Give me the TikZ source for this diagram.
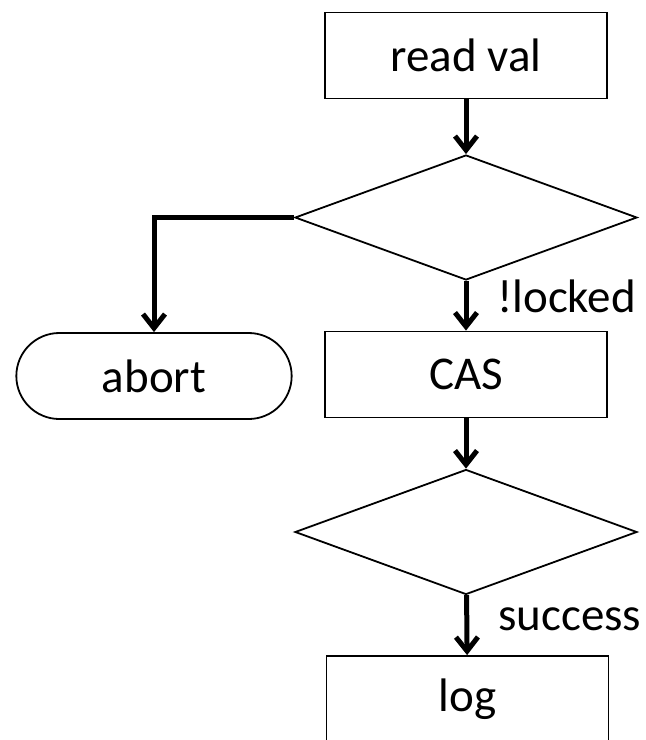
\documentclass[tikz,border=0pt]{standalone}
\usepackage{fontspec}
\setmainfont{Carlito}
\usetikzlibrary{arrows.meta,shapes.geometric,shapes.misc}

\tikzset{
  box/.style={draw, line width=1.8, rectangle, minimum width=282, minimum height=86},
  test/.style={draw, line width=1.8, diamond, inner sep=0, minimum width=342, minimum height=125},
  term/.style={draw, line width=1.8, rounded rectangle, minimum width=282, minimum height=86},
  flow/.style={line width=5, ->},
  lbl/.style={anchor=base west, inner sep=0}
}

\begin{document}
\begin{tikzpicture}[x=1pt, y=-1pt, >={Straight Barb[length=14,width=22]},
  font=\fontsize{47}{56}\selectfont]

\useasboundingbox (0,0) rectangle (646,740);
\clip (0,0) rectangle (646,740);

\node[box]  (read)  at (466,55.5)  {read val};
\node[test] (chk)   at (466,217.5) {};
\node[box]  (cas)   at (466,374.5) {CAS};
\node[term] (abort) at (154,376)   {abort};
\node[test] (ok)    at (466,532)   {};
\node[box]  (log)   at (467.5,699) {log};

\draw[flow] (read) -- (chk);
\draw[flow] (chk) -- (cas);
\draw[flow] (chk.west) -| (abort.north);
\draw[flow] (cas) -- (ok);
\draw[flow] (ok) -- (log);

\node[lbl] (lk)  at (497,312) {!locked};
\node[lbl] (suc) at (498,630) {success};

\end{tikzpicture}
\end{document}
